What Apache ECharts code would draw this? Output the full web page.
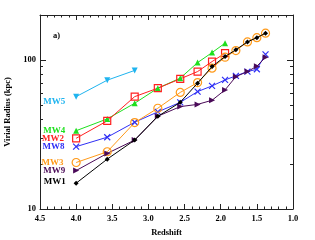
<!DOCTYPE html>
<html><head><meta charset="utf-8">
<script src="https://cdn.jsdelivr.net/npm/echarts@6/dist/echarts.min.js"></script>
<style>html,body{margin:0;padding:0;background:#fff}#c{width:315px;height:240px}</style>
</head><body><div id="c"></div>
<script>
const redshift = [4.0, 3.57, 3.19, 2.87, 2.56, 2.32, 2.12, 1.94, 1.79, 1.63, 1.50, 1.38];
const MW1 = [14.9, 21.6, 29.0, 41.8, 51.9, 69.8, 90.2, 105.2, 117, 132, 141, 151];
const MW3 = [20.5, 24.2, 38.0, 47.4, 60.5, 70.4, 88.0, 104.2, 115.4, 132, 141, 151];
const MW9 = [18.1, 23.6, 29.0, 41.9, 48.6, 50.3, 53.6, 62.9, 77.2, 83.5, 90.6, 104.2];
const MW8 = [26.2, 30.3, 38.2, 44.8, 51.9, 61.3, 66.9, 73.4, 78.1, 83.5, 86.5, 108.9];
const MW2 = [29.8, 39.0, 56.7, 64.6, 74.6, 83.5, 97.4, 110.9];
const MW4 = [33.5, 40.2, 51.2, 64.6, 75.4, 95.9, 111.9, 129.5];
const MW5 = [56.7, 73.1, 85.0];
const xTicks = [4.5, 4.0, 3.5, 3.0, 2.5, 2.0, 1.5, 1.0];
const yMajor = [10, 100];
const yMinor = [20, 30, 40, 50, 60, 70, 80, 90, 200];

const FONT = 'Liberation Serif';
const AX = '#222';

function mk(name, vals, color, sym, size, opts) {
  opts = opts || {};
  const data = vals.map((v, i) => {
    const d = {value: [redshift[i], v]};
    if (i === 0) d.label = {show: true, formatter: name, position: 'left', distance: 8,
      offset: opts.lo || [0, 0], color: color, fontFamily: FONT, fontWeight: 'bold', fontSize: 9};
    return d;
  });
  return {
    type: 'line', name: name, data: data, xAxisIndex: 0, yAxisIndex: 0,
    symbol: sym, symbolSize: size, symbolRotate: opts.rot || 0,
    lineStyle: {color: color, width: 1},
    itemStyle: opts.hollow ? {color: 'rgba(0,0,0,0)', borderColor: color, borderWidth: 1.2}
                           : {color: color, borderColor: color, borderWidth: 0},
    emphasis: {disabled: true}, animation: false, z: opts.z || 2
  };
}

const xBase = {
  type: 'value', min: 1, max: 4.5, interval: 0.5, inverse: true,
  axisLine: {show: true, lineStyle: {color: AX, width: 1}},
  axisTick: {show: true, inside: true, length: 5, lineStyle: {color: AX}},
  minorTick: {show: true, splitNumber: 5, length: 2.5, lineStyle: {color: AX}},
  splitLine: {show: false}
};
const yBase = {
  type: 'log', logBase: 10, min: 10, max: 200,
  splitLine: {show: false}, minorSplitLine: {show: false}
};

const chart = echarts.init(document.getElementById('c'), null, {renderer: 'canvas'});
chart.setOption({
  backgroundColor: '#fff',
  animation: false,
  grid: {left: 40, right: 22, top: 15, bottom: 31, containLabel: false, outerBoundsMode: 'none'},
  xAxis: [
    Object.assign({}, xBase, {position: 'bottom',
      name: 'Redshift', nameLocation: 'middle', nameGap: 14,
      nameTextStyle: {fontFamily: FONT, fontWeight: 'bold', fontSize: 8.5, color: '#000'},
      axisLabel: {show: true, margin: 5, fontFamily: FONT, fontWeight: 'bold', fontSize: 8.5, color: '#000',
        formatter: v => v.toFixed(1), customValues: xTicks}}),
    Object.assign({}, xBase, {position: 'top', axisLabel: {show: false}})
  ],
  yAxis: [
    Object.assign({}, yBase, {position: 'left',
      name: 'Virial Radius (kpc)', nameLocation: 'middle', nameGap: 21,
      nameTextStyle: {fontFamily: FONT, fontWeight: 'bold', fontSize: 8.5, color: '#000'},
      axisLine: {show: true, lineStyle: {color: AX}},
      axisTick: {show: true, inside: true, length: 6, lineStyle: {color: AX}, customValues: yMajor},
      axisLabel: {show: true, margin: 4, fontFamily: FONT, fontWeight: 'bold', fontSize: 8.5, color: '#000', customValues: yMajor}}),
    Object.assign({}, yBase, {position: 'left',
      axisLine: {show: false},
      axisTick: {show: true, inside: true, length: 3, lineStyle: {color: AX}, customValues: yMinor},
      axisLabel: {show: false}}),
    Object.assign({}, yBase, {position: 'right',
      axisLine: {show: true, lineStyle: {color: AX}},
      axisTick: {show: true, inside: true, length: 6, lineStyle: {color: AX}, customValues: yMajor},
      axisLabel: {show: false}}),
    Object.assign({}, yBase, {position: 'right',
      axisLine: {show: false},
      axisTick: {show: true, inside: true, length: 3, lineStyle: {color: AX}, customValues: yMinor},
      axisLabel: {show: false}})
  ],
  graphic: [{type: 'text', left: 53, top: 31,
    style: {text: 'a)', fontFamily: FONT, fontWeight: 'bold', fontSize: 8.5, fill: '#000'}}],
  series: [
    mk('MW5', MW5, '#1fb4ef', 'triangle', 6, {rot: 180, lo: [0, 5]}),
    mk('MW4', MW4, '#1ee01e', 'triangle', 6),
    mk('MW2', MW2, '#ff1f1f', 'rect', 7, {hollow: true}),
    mk('MW8', MW8, '#2f2ff5', 'path://M0,0L10,10M10,0L0,10', 6, {hollow: true}),
    mk('MW3', MW3, '#ff9a1a', 'circle', 8, {hollow: true}),
    mk('MW9', MW9, '#4a0a58', 'triangle', 6, {rot: -90}),
    mk('MW1', MW1, '#000000', 'diamond', 5, {lo: [0, -2], z: 3})
  ]
});
</script></body></html>
